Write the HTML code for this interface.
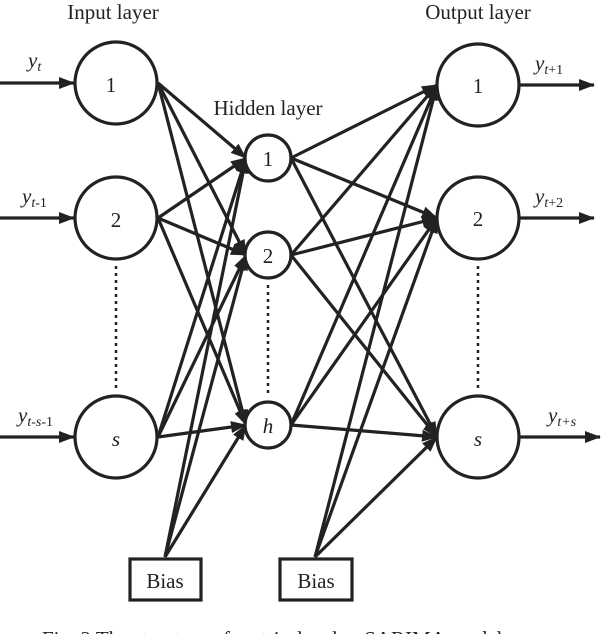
<!DOCTYPE html>
<html><head><style>body{margin:0;background:#fff}svg{display:block}text{font-family:"Liberation Serif",serif;fill:#222}</style></head><body>
<svg width="602" height="634" viewBox="0 0 602 634">
<defs>
<marker id="b" markerWidth="16" markerHeight="12" refX="15" refY="6" orient="auto" markerUnits="userSpaceOnUse"><path d="M0,0 L16,6 L0,12Z" fill="#222"/></marker></defs>
<g stroke="#222" stroke-width="3.2" fill="none">
<line x1="0" y1="83" x2="74" y2="83" marker-end="url(#b)"/>
<line x1="0" y1="218" x2="74" y2="218" marker-end="url(#b)"/>
<line x1="0" y1="437" x2="74" y2="437" marker-end="url(#b)"/>
<line x1="519" y1="85" x2="594" y2="85" marker-end="url(#b)"/>
<line x1="519" y1="218" x2="594" y2="218" marker-end="url(#b)"/>
<line x1="519" y1="437" x2="600" y2="437" marker-end="url(#b)"/>
<g marker-end="url(#b)">
<line x1="158" y1="83" x2="246" y2="158"/><line x1="158" y1="83" x2="246" y2="255"/><line x1="158" y1="83" x2="246" y2="425"/>
<line x1="158" y1="218" x2="246" y2="158"/><line x1="158" y1="218" x2="246" y2="255"/><line x1="158" y1="218" x2="246" y2="425"/>
<line x1="158" y1="437" x2="246" y2="158"/><line x1="158" y1="437" x2="246" y2="255"/><line x1="158" y1="437" x2="246" y2="425"/>
<line x1="165" y1="557" x2="246" y2="158"/><line x1="165" y1="557" x2="246" y2="255"/><line x1="165" y1="557" x2="246" y2="425"/>
<line x1="291" y1="158" x2="437" y2="85"/><line x1="291" y1="158" x2="437" y2="218"/><line x1="291" y1="158" x2="437" y2="437"/>
<line x1="291" y1="255" x2="437" y2="85"/><line x1="291" y1="255" x2="437" y2="218"/><line x1="291" y1="255" x2="437" y2="437"/>
<line x1="291" y1="425" x2="437" y2="85"/><line x1="291" y1="425" x2="437" y2="218"/><line x1="291" y1="425" x2="437" y2="437"/>
<line x1="315" y1="557" x2="437" y2="85"/><line x1="315" y1="557" x2="437" y2="218"/><line x1="315" y1="557" x2="437" y2="437"/>
</g>
<g fill="#fff">
<circle cx="116" cy="83" r="41"/><circle cx="116" cy="218" r="41"/><circle cx="116" cy="437" r="41"/>
<circle cx="268" cy="158" r="23"/><circle cx="268" cy="255" r="23"/><circle cx="268" cy="425" r="23"/>
<circle cx="478" cy="85" r="41"/><circle cx="478" cy="218" r="41"/><circle cx="478" cy="437" r="41"/>
<rect x="130" y="559" width="71" height="41"/><rect x="280" y="559" width="72" height="41"/>
</g>
<g stroke-dasharray="3,4" stroke-width="2.5">
<line x1="116" y1="266" x2="116" y2="392"/><line x1="268" y1="285" x2="268" y2="395"/><line x1="478" y1="266" x2="478" y2="392"/>
</g>
</g>
<g font-size="21" text-anchor="middle">
<text x="113" y="19">Input layer</text><text x="478" y="19">Output layer</text><text x="268" y="115">Hidden layer</text>
<text x="111" y="92">1</text><text x="116" y="227">2</text><text x="116" y="446" font-style="italic">s</text>
<text x="268" y="166">1</text><text x="268" y="263">2</text><text x="268" y="433" font-style="italic">h</text>
<text x="478" y="93">1</text><text x="478" y="226">2</text><text x="478" y="446" font-style="italic">s</text>
<text x="165" y="588">Bias</text><text x="316" y="588">Bias</text>
</g>
<g font-size="21" font-style="italic">
<text x="28" y="67">y<tspan font-size="14" dy="4">t</tspan></text>
<text x="22" y="203">y<tspan font-size="14" dy="4">t</tspan><tspan font-size="14" font-style="normal">-1</tspan></text>
<text x="18" y="422">y<tspan font-size="14" dy="4">t-s</tspan><tspan font-size="14" font-style="normal">-1</tspan></text>
<text x="535" y="70">y<tspan font-size="14" dy="4">t</tspan><tspan font-size="14" font-style="normal">+1</tspan></text>
<text x="535" y="203">y<tspan font-size="14" dy="4">t</tspan><tspan font-size="14" font-style="normal">+2</tspan></text>
<text x="548" y="422">y<tspan font-size="14" dy="4">t+s</tspan></text>
</g>
<text x="42" y="646" font-size="21">Fig. 2   The structure of matrix-level ... SARIMA model</text>
</svg></body></html>
